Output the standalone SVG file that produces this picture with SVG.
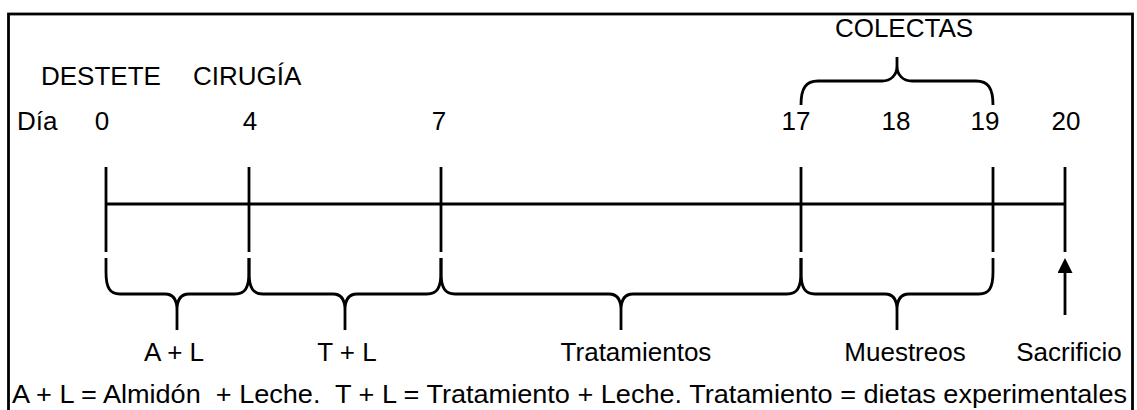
<svg xmlns="http://www.w3.org/2000/svg" width="1137" height="410" viewBox="0 0 1137 410">
<style>
text{font-family:"Liberation Sans",Arial,sans-serif;font-size:26px;fill:#000}
.ln{stroke:#000;stroke-width:2.8;fill:none}
.m{text-anchor:middle}
</style>
<defs>
<marker id="ah" markerWidth="15" markerHeight="15" refX="2" refY="7.5" orient="auto" markerUnits="userSpaceOnUse" viewBox="0 0 15 15"><path d="M0,0 L15,7.5 L0,15 Z" fill="#000"/></marker>
</defs>
<rect x="8.5" y="14" width="1124" height="410" class="ln"/>
<g id="labels-top">
<text x="904" y="37" class="m">COLECTAS</text>
<text x="41" y="85">DESTETE</text>
<text x="193" y="85">CIRUGÍA</text>
</g>
<g id="days">
<text x="17" y="130">Día</text>
<text x="102" y="130" class="m">0</text>
<text x="250" y="130" class="m">4</text>
<text x="439" y="130" class="m">7</text>
<text x="796" y="130" class="m">17</text>
<text x="896" y="130" class="m">18</text>
<text x="985" y="130" class="m">19</text>
<text x="1066" y="130" class="m">20</text>
</g>
<g id="timeline" class="ln">
<line x1="106" y1="204" x2="1065" y2="204"/>
<line x1="106" y1="167" x2="106" y2="252"/>
<line x1="249" y1="167" x2="249" y2="252"/>
<line x1="441" y1="167" x2="441" y2="252"/>
<line x1="801" y1="167" x2="801" y2="252"/>
<line x1="993" y1="167" x2="993" y2="252"/>
<line x1="1065" y1="167" x2="1065" y2="252"/>
</g>
<g id="connectors" class="ln">
<path id="brace-colectas" d="M801,105 C801,88 806,81 818,81 L882,81 C891,81 897,75 897,66 L897,57 M897,66 C897,75 903,81 912,81 L976,81 C988,81 993,88 993,105"/>
<path id="brace-al" d="M106,258 L106,272 C106,288 110,294 120,294 L165,294 C173,294 177,300 177,310 L177,330 M177,310 C177,300 181,294 189,294 L235,294 C245,294 249,288 249,272 L249,258"/>
<path id="brace-tl" d="M249,258 L249,272 C249,288 253,294 263,294 L333,294 C341,294 345,300 345,310 L345,330 M345,310 C345,300 349,294 357,294 L427,294 C437,294 441,288 441,272 L441,258"/>
<path id="brace-trat" d="M441,258 L441,272 C441,288 445,294 455,294 L609,294 C617,294 621,300 621,310 L621,330 M621,310 C621,300 625,294 633,294 L787,294 C797,294 801,288 801,272 L801,258"/>
<path id="brace-muest" d="M801,258 L801,272 C801,288 805,294 815,294 L885,294 C893,294 897,300 897,310 L897,330 M897,310 C897,300 901,294 909,294 L979,294 C989,294 993,288 993,272 L993,258"/>
<line id="arrow-sacrificio" x1="1065" y1="315" x2="1065" y2="271" marker-end="url(#ah)"/>
</g>
<g id="labels-bottom">
<text x="174" y="361" class="m">A + L</text>
<text x="347" y="361" class="m">T + L</text>
<text x="636" y="361" class="m">Tratamientos</text>
<text x="905" y="361" class="m">Muestreos</text>
<text x="1069" y="361" class="m">Sacrificio</text>
</g>
<g id="legend">
<text x="12" y="403" textLength="1115" lengthAdjust="spacingAndGlyphs" xml:space="preserve">A + L = Almidón  + Leche.  T + L = Tratamiento + Leche. Tratamiento = dietas experimentales</text>
</g>
</svg>
